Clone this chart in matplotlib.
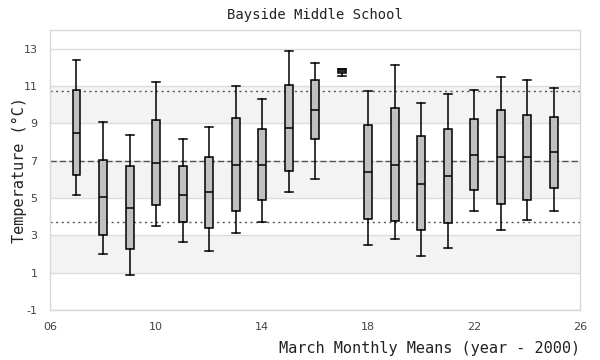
import matplotlib
matplotlib.use("Agg")
import matplotlib.pyplot as plt

plt.rcParams["axes.unicode_minus"] = False

years = [7, 8, 9, 10, 11, 12, 13, 14, 15, 16, 17, 18, 19, 20, 21, 22, 23, 24, 25]
whisk_lo = [5.14, 2.02, 0.89, 3.52, 2.63, 2.14, 3.14, 3.73, 5.34, 6.04, 11.52, 2.50, 2.82, 1.91, 2.34, 4.32, 3.30, 3.84, 4.32]
q1 = [6.21, 3.04, 2.29, 4.61, 3.70, 3.41, 4.32, 4.91, 6.46, 8.13, 11.68, 3.89, 3.79, 3.30, 3.68, 5.45, 4.70, 4.91, 5.55]
med = [8.50, 5.07, 4.48, 6.89, 5.18, 5.34, 6.79, 6.79, 8.77, 9.73, 11.78, 6.41, 6.79, 5.77, 6.20, 7.32, 7.21, 7.21, 7.48]
q3 = [10.80, 7.05, 6.70, 9.20, 6.70, 7.21, 9.30, 8.71, 11.07, 11.29, 11.89, 8.88, 9.79, 8.29, 8.71, 9.25, 9.73, 9.46, 9.36]
whisk_hi = [12.41, 9.04, 8.39, 11.23, 8.13, 8.82, 11.02, 10.32, 12.89, 12.20, 11.89, 10.70, 12.14, 10.11, 10.54, 10.80, 11.50, 11.34, 10.91]

overall_mean = 7.0
lower_ref = 3.73
upper_ref = 10.70

x_ticks = [6, 10, 14, 18, 22, 26]
x_ticklabels = ["06", "10", "14", "18", "22", "26"]
y_ticks = [-1, 1, 3, 5, 7, 9, 11, 13]

fig = plt.figure(figsize=(6, 3.6), dpi=100)
ax = fig.add_axes([0.0833, 0.139, 0.884, 0.778])

# alternating bands
for lo in [1, 5, 9]:
    ax.axhspan(lo, lo + 2, color="#f3f3f3", zorder=0, lw=0)
for y in y_ticks:
    ax.axhline(y, color="#dddddd", lw=1, zorder=0.5)

ax.axhline(upper_ref, color="#555555", lw=1, ls=(0, (1.5, 2.5)), zorder=1)
ax.axhline(lower_ref, color="#555555", lw=1, ls=(0, (1.5, 2.5)), zorder=1)
ax.axhline(overall_mean, color="#555555", lw=1, ls=(0, (4.5, 2.2)), zorder=1)

stats = []
for i, yr in enumerate(years):
    stats.append(dict(med=med[i], q1=q1[i], q3=q3[i], whislo=whisk_lo[i], whishi=whisk_hi[i], fliers=[]))

ax.bxp(stats, positions=years, widths=0.3, patch_artist=True, showfliers=False,
       boxprops=dict(facecolor="#c0c0c0", edgecolor="black", linewidth=1.1),
       medianprops=dict(color="black", linewidth=1.1),
       whiskerprops=dict(color="black", linewidth=1.1),
       capprops=dict(color="black", linewidth=1.1),
       capwidths=0.3, manage_ticks=False, zorder=3)

ax.set_xlim(6, 26)
ax.set_ylim(-1, 14)
ax.set_xticks(x_ticks)
ax.set_xticklabels(x_ticklabels)
ax.set_yticks(y_ticks)
ax.tick_params(axis="y", length=0, labelsize=8, colors="#444444", pad=9)
ax.tick_params(axis="x", length=0, labelsize=8, colors="#444444", pad=9)
for s in ax.spines.values():
    s.set_color("#d8d8d8")
    s.set_linewidth(1)

ax.set_title("Bayside Middle School", family="DejaVu Sans Mono", fontsize=10, pad=8, color="#222222")
ax.set_ylabel("Temperature (°C)", family="DejaVu Sans Mono", fontsize=11, color="#222222")
ax.yaxis.set_label_coords(-0.043, 0.5)
fig.text(0.967, 0.012, "March Monthly Means (year - 2000)", family="DejaVu Sans Mono",
         fontsize=11, color="#222222", ha="right", va="bottom")

fig.savefig("out.png", dpi=100)
